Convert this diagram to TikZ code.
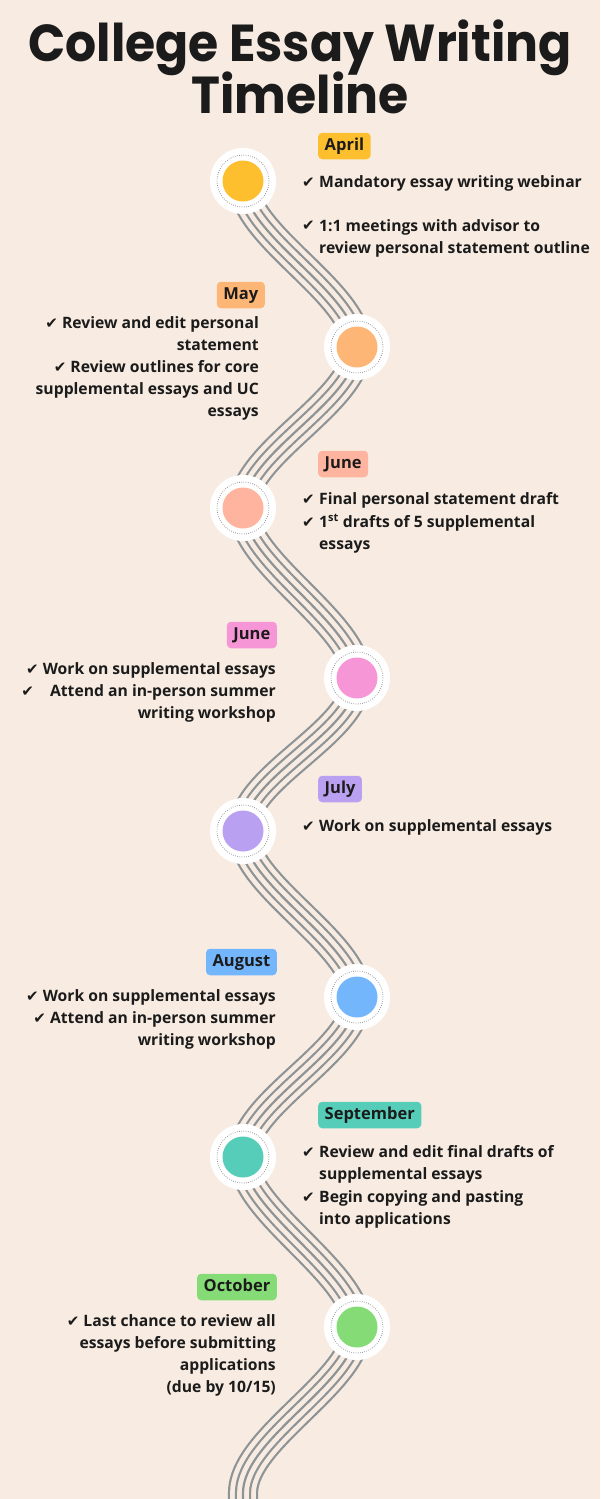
\documentclass[tikz,border=0pt]{standalone}
\usepackage{fontspec}
\setmainfont{Open Sans}
\newfontfamily\titlefont{Poppins}
\newfontfamily\symfont{DejaVu Sans}
\usetikzlibrary{backgrounds}

\definecolor{paper}{HTML}{F8ECE2}
\definecolor{wavegray}{HTML}{8E9396}
\definecolor{ringgray}{HTML}{8A9096}
\definecolor{aprc}{HTML}{FDBF2E}
\definecolor{mayc}{HTML}{FDB675}
\definecolor{junc}{HTML}{FEB49F}
\definecolor{jnbc}{HTML}{F796D6}
\definecolor{julc}{HTML}{BAA0F1}
\definecolor{augc}{HTML}{74B6FB}
\definecolor{sepc}{HTML}{55CDB9}
\definecolor{octc}{HTML}{85DC76}
\definecolor{ink}{HTML}{1B1B1B}

\newcommand{\chk}{{\symfont\fontsize{15}{22}\selectfont\char"2714}}

\tikzset{
  stopnode/.style={circle, fill=white, minimum size=66pt, inner sep=0pt},
  month/.style={fill=#1, rounded corners=4pt, inner xsep=6.5pt, inner ysep=5.5pt,
    text height=12pt, text depth=3.5pt,
    font=\bfseries\fontsize{16.5}{20}\selectfont},
  item/.style={inner sep=0pt, font=\bfseries\fontsize{15.7}{22}\selectfont, align=left},
  itemr/.style={item, align=right},
  tick/.style={inner sep=0pt},
  headline/.style={anchor=base, font=\titlefont\bfseries\fontsize{52}{50}\selectfont},
}

\begin{document}
\begin{tikzpicture}[x=1pt,y=-1pt, text=ink]
\useasboundingbox (0,0) rectangle (600,1499);

% title
\node[headline] (title1) at (300,61) {\scalebox{0.94}[1]{College Essay Writing}};
\node[headline] (title2) at (300,113) {\scalebox{0.94}[1]{Timeline}};

% stops on the wave
\node[stopnode] (apr) at (243,181) {};
\node[stopnode] (may) at (357,347) {};
\node[stopnode] (jun) at (243,508) {};
\node[stopnode] (jnb) at (357,678) {};
\node[stopnode] (jul) at (243,831) {};
\node[stopnode] (aug) at (357,997) {};
\node[stopnode] (sep) at (243,1157) {};
\node[stopnode] (oct) at (357,1327) {};
\coordinate (wend) at (243,1493);
\coordinate (wout) at (243,1530);

\foreach \n/\c in {apr/aprc, may/mayc, jun/junc, jnb/jnbc, jul/julc, aug/augc, sep/sepc, oct/octc} {
  \draw[ringgray, line width=0.8pt, dash pattern=on 0.7pt off 1.5pt] (\n) circle[radius=26pt];
  \fill[\c] (\n) circle[radius=20.5pt];
}

% the wave, five strands
\begin{scope}[on background layer]
\fill[paper] (0,0) rectangle (600,1499);
\foreach \w/\c in {30.2/wavegray, 25.8/paper, 16.2/wavegray, 11.8/paper, 2.2/wavegray}
  \draw[line width=\w pt, \c] (apr.center)
    .. controls +(0,55) and +(0,-55) .. (may.center)
    .. controls +(0,55) and +(0,-55) .. (jun.center)
    .. controls +(0,55) and +(0,-55) .. (jnb.center)
    .. controls +(0,55) and +(0,-55) .. (jul.center)
    .. controls +(0,55) and +(0,-55) .. (aug.center)
    .. controls +(0,55) and +(0,-55) .. (sep.center)
    .. controls +(0,55) and +(0,-55) .. (oct.center)
    .. controls +(0,55) and +(0,-55) .. (wend) -- (wout);
\end{scope}

% month labels
\node[month=aprc, anchor=west] (aprlab) at (318,146) {April};
\node[month=mayc, anchor=east] (maylab) at (265,295) {May};
\node[month=junc, anchor=west] (junlab) at (318,464) {June};
\node[month=jnbc, anchor=east] (jnblab) at (277,635) {June};
\node[month=julc, anchor=west] (jullab) at (318,789) {July};
\node[month=augc, anchor=east] (auglab) at (277,962) {August};
\node[month=sepc, anchor=west] (seplab) at (318,1115) {September};
\node[month=octc, anchor=east] (octlab) at (277,1287) {October};

% April
\node[item, anchor=base west] (apr1) at (319,187) {Mandatory essay writing webinar};
\node[tick, anchor=base east] (apr1k) at (315,187) {\chk};
\node[item, anchor=base west] (apr2) at (319,253) {1:1 meetings with advisor to\\review personal statement outline};
\node[tick, anchor=base east] (apr2k) at (315,230) {\chk};

% May
\node[itemr, anchor=base east] (may1) at (259,416) {\chk\ Review and edit personal\\statement\\\chk\ Review outlines for core\\supplemental essays and UC\\essays};

% June
\node[item, anchor=base west] (jun1) at (319,504) {Final personal statement draft};
\node[tick, anchor=base east] (jun1k) at (315,504) {\chk};
\node[item, anchor=base west] (jun2) at (319,549) {1\textsuperscript{st} drafts of 5 supplemental\\essays};
\node[tick, anchor=base east] (jun2k) at (315,527) {\chk};

% June, second
\node[itemr, anchor=base east] (jnb1) at (276,718) {\chk\ Work on supplemental essays\\\chk\hspace{16pt}Attend an in-person summer\\writing workshop};

% July
\node[item, anchor=base west] (jul1) at (319,831) {Work on supplemental essays};
\node[tick, anchor=base east] (jul1k) at (315,831) {\chk};

% August
\node[itemr, anchor=base east] (aug1) at (276,1045) {\chk\ Work on supplemental essays\\\chk\ Attend an in-person summer\\writing workshop};

% September
\node[item, anchor=base west] (sep1) at (319,1179) {Review and edit final drafts of\\supplemental essays};
\node[tick, anchor=base east] (sep1k) at (315,1157) {\chk};
\node[item, anchor=base west] (sep2) at (319,1224) {Begin copying and pasting\\into applications};
\node[tick, anchor=base east] (sep2k) at (315,1202) {\chk};

% October
\node[itemr, anchor=base east] (oct1) at (276,1392) {\chk\ Last chance to review all\\essays before submitting\\applications\hspace{5pt}\\(due by 10/15)};
\end{tikzpicture}
\end{document}
